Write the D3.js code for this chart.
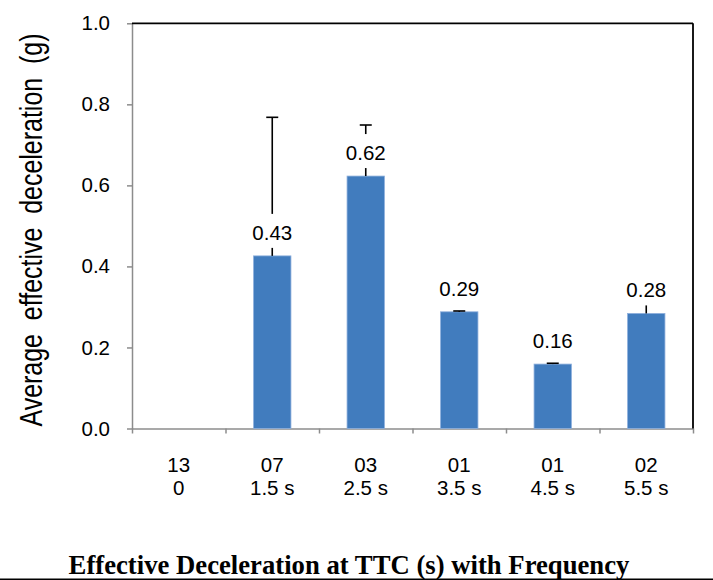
<!DOCTYPE html>
<html>
<head>
<meta charset="utf-8">
<script src="https://cdn.jsdelivr.net/npm/d3@7"></script>
<style>
  html, body { margin: 0; padding: 0; background: #fff; }
  svg { display: block; }
  text { font-family: "Liberation Sans", Arial, sans-serif; fill: #000; }
</style>
</head>
<body>
<svg id="chart" width="713" height="580"></svg>
<script>
// ---- data ----
const freqLabels = ["13", "07", "03", "01", "01", "02"];
const ttcLabels = ["0", "1.5 s", "2.5 s", "3.5 s", "4.5 s", "5.5 s"];
const values = [null, 0.426, 0.623, 0.288, 0.159, 0.284];
const errors = [null, 0.342, 0.126, 0.002, 0.002, 0.05];
const yTicks = [0, 0.2, 0.4, 0.6, 0.8, 1.0];
const yTitle = "Average\u00a0 effective\u00a0 deceleration\u00a0 (g)";
const xTitle = "Effective Deceleration at TTC (s) with Frequency";

// ---- layout ----
const W = 713, H = 580;
const pLeft = 132, pRight = 693, pTop = 23.3, pBottom = 428.5;
const svg = d3.select("#chart");

const idx = d3.range(values.length);
const x = d3.scaleBand().domain(idx).range([pLeft, pRight]).paddingInner(0.6).paddingOuter(0.3);
const xb = d3.scaleLinear().domain([0, values.length]).range([pLeft, pRight]);
const y = d3.scaleLinear().domain([0, 1]).range([pBottom, pTop]);

// y axis
const yAxis = svg.append("g")
  .attr("transform", `translate(${pLeft},0)`)
  .call(d3.axisLeft(y).tickValues(yTicks).tickFormat(d3.format(".1f")).tickSize(5).tickSizeOuter(0).tickPadding(17));
yAxis.select(".domain").attr("stroke", "#8c8c8c").attr("stroke-width", 1.5);
yAxis.selectAll(".tick line").attr("stroke", "#8c8c8c").attr("stroke-width", 1.5);
yAxis.selectAll(".tick text").attr("font-size", 20.5).attr("fill", "#000");

// x axis (boundary ticks)
const xAxis = svg.append("g")
  .attr("transform", `translate(0,${pBottom})`)
  .call(d3.axisBottom(xb).ticks(values.length).tickFormat("").tickSize(5).tickSizeOuter(0));
xAxis.select(".domain").attr("stroke", "#8c8c8c").attr("stroke-width", 1.5);
xAxis.selectAll(".tick line").attr("stroke", "#8c8c8c").attr("stroke-width", 1.5);

// top and right border
svg.append("line").attr("x1", pLeft).attr("x2", pRight).attr("y1", y(1)).attr("y2", y(1))
  .attr("stroke", "#000").attr("stroke-width", 1.8);
svg.append("line").attr("x1", pRight).attr("x2", pRight).attr("y1", y(1)).attr("y2", pBottom)
  .attr("stroke", "#000").attr("stroke-width", 1.8);

// bars
const data = idx.map(i => ({ i, v: values[i], e: errors[i] })).filter(d => d.v != null);
svg.append("g").selectAll("rect").data(data).join("rect")
  .attr("x", d => x(d.i))
  .attr("width", x.bandwidth())
  .attr("y", d => y(d.v))
  .attr("height", d => y(0) - y(d.v))
  .attr("fill", "#417cbe")
  .attr("stroke", "#8fb0dc")
  .attr("stroke-width", 0.8);

// error bars
const eg = svg.append("g").attr("stroke", "#000").attr("stroke-width", 1.6);
eg.selectAll("line.v").data(data).join("line").attr("class", "v")
  .attr("x1", d => x(d.i) + x.bandwidth() / 2).attr("x2", d => x(d.i) + x.bandwidth() / 2)
  .attr("y1", d => y(d.v)).attr("y2", d => y(d.v + d.e));
eg.selectAll("line.c").data(data).join("line").attr("class", "c")
  .attr("x1", d => x(d.i) + x.bandwidth() / 2 - 6).attr("x2", d => x(d.i) + x.bandwidth() / 2 + 6)
  .attr("y1", d => y(d.v + d.e)).attr("y2", d => y(d.v + d.e));

// data labels with white background
const lg = svg.append("g");
data.forEach(d => {
  const cx = x(d.i) + x.bandwidth() / 2;
  const by = y(d.v) - 16;
  lg.append("rect").attr("x", cx - 24).attr("width", 48).attr("y", by - 26).attr("height", 34).attr("fill", "#fff");
  lg.append("text").attr("x", cx).attr("y", by).attr("text-anchor", "middle").attr("font-size", 20.5)
    .text(d3.format(".2f")(d.v));
});

// category labels
const cg = svg.append("g");
idx.forEach(i => {
  const cx = x(i) + x.bandwidth() / 2;
  cg.append("text").attr("x", cx).attr("y", 471.7).attr("text-anchor", "middle").attr("font-size", 20.5).text(freqLabels[i]);
  cg.append("text").attr("x", cx).attr("y", 495).attr("text-anchor", "middle").attr("font-size", 20.5).text(ttcLabels[i]);
});

// y title
svg.append("text")
  .attr("transform", "translate(42,230) rotate(-90) scale(0.78,1)")
  .attr("text-anchor", "middle").attr("font-size", 32)
  .text(yTitle);

// bottom title
svg.append("text").attr("x", 349).attr("y", 573.5).attr("text-anchor", "middle")
  .attr("font-size", 26.7).attr("font-weight", "bold")
  .style("font-family", "'Liberation Serif', 'Times New Roman', serif")
  .text(xTitle);
svg.append("line").attr("x1", 0).attr("x2", W).attr("y1", 579.3).attr("y2", 579.3)
  .attr("stroke", "#000").attr("stroke-width", 1.5);
</script>
</body>
</html>
